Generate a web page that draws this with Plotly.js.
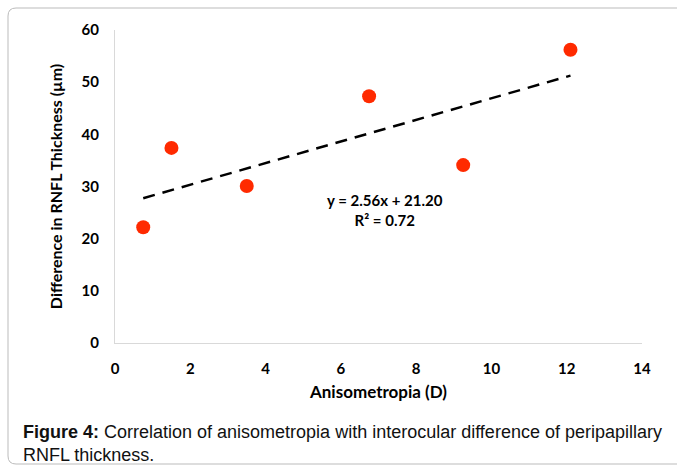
<!DOCTYPE html>
<html><head><meta charset="utf-8">
<script src="https://cdn.plot.ly/plotly-3.0.1.min.js"></script>
<style>html,body{margin:0;padding:0;background:#fff;}</style>
</head><body>
<div id="chart" style="width:677px;height:467px;"></div>
<script>
var anisometropia = [0.75, 1.5, 3.5, 6.75, 9.25, 12.1];
var rnflDifference = [22.2, 37.4, 30.1, 47.3, 34.1, 56.2];
var xTicks = [0, 2, 4, 6, 8, 10, 12, 14];
var yTicks = [0, 10, 20, 30, 40, 50, 60];
var equationText = 'y = 2.56x + 21.20';
var r2Text = 'R² = 0.72';

// least-squares trendline through the data
var n = anisometropia.length, mx = 0, my = 0;
for (var i = 0; i < n; i++) { mx += anisometropia[i]; my += rnflDifference[i]; }
mx /= n; my /= n;
var sxy = 0, sxx = 0;
for (var i = 0; i < n; i++) { sxy += (anisometropia[i]-mx)*(rnflDifference[i]-my); sxx += (anisometropia[i]-mx)*(anisometropia[i]-mx); }
var slope = sxy / sxx, icpt = my - slope * mx;
var xMin = Math.min.apply(null, anisometropia), xMax = Math.max.apply(null, anisometropia);
var trendX = [xMin, xMax];
var trendY = [slope*xMin + icpt, slope*xMax + icpt];

var font = 'Lato, "Open Sans", sans-serif';
var traces = [
  {x: trendX, y: trendY, mode: 'lines', type: 'scatter',
   line: {color: '#000', width: 2.5, dash: '12px,8px'}, hoverinfo: 'skip'},
  {x: anisometropia, y: rnflDifference, mode: 'markers', type: 'scatter',
   marker: {color: '#ff2a00', size: 14}}
];
var layout = {
  width: 677, height: 467,
  margin: {l: 115, r: 35, t: 30, b: 124},
  showlegend: false,
  paper_bgcolor: '#fff', plot_bgcolor: '#fff',
  xaxis: {range: [0, 14], tickvals: xTicks, ticktext: xTicks.map(String),
    showgrid: false, zeroline: false, showline: true, linecolor: '#d9d9d9', linewidth: 1,
    ticks: '', ticklabelstandoff: 12,
    tickfont: {family: font, size: 15, color: '#000', weight: 'bold'},
    title: {text: 'Anisometropia (D)', standoff: 10, font: {family: font, size: 17, color: '#000', weight: 'bold'}}},
  yaxis: {range: [0, 60], tickvals: yTicks, ticktext: yTicks.map(String),
    showgrid: false, zeroline: false, showline: true, linecolor: '#d9d9d9', linewidth: 1,
    ticks: '', ticklabelstandoff: 12,
    tickfont: {family: font, size: 15, color: '#000', weight: 'bold'},
    title: {text: 'Difference in RNFL Thickness (µm)', standoff: 14, font: {family: font, size: 16, color: '#000', weight: 'bold'}}},
  annotations: [
    {xref: 'x', yref: 'y', x: 7.17, y: 25.5, text: '<b>' + equationText + '</b><br><b>' + r2Text + '</b>',
     showarrow: false, font: {family: font, size: 15, color: '#000'}, align: 'center'},
    {xref: 'paper', yref: 'paper', x: -0.178, y: -0.245, xanchor: 'left', yanchor: 'top',
     text: '<b>Figure 4:</b> Correlation of anisometropia with interocular difference of peripapillary<br>RNFL thickness.',
     showarrow: false, align: 'left', font: {family: '"Liberation Sans", Arial, sans-serif', size: 18, color: '#111'}}
  ],
  shapes: [
    {type: 'path', xref: 'paper', yref: 'paper', layer: 'below',
     path: '', line: {color: '#bbb', width: 1}}
  ]
};
// rounded frame in pixel terms converted to paper coords
(function(){
  var pw = 677 - 115 - 35, ph = 467 - 30 - 124;
  function px(x){ return (x - 115) / pw; }
  function py(y){ return (467 - 124 - y) / ph; }
  var L = 8, T = 8, R = 690, B = 464, r = 8;
  layout.shapes[0].path = 'M' + px(L) + ',' + py(T + r) +
    ' Q' + px(L) + ',' + py(T) + ' ' + px(L + r) + ',' + py(T) +
    ' L' + px(R) + ',' + py(T) +
    ' L' + px(R) + ',' + py(B) +
    ' L' + px(L + r) + ',' + py(B) +
    ' Q' + px(L) + ',' + py(B) + ' ' + px(L) + ',' + py(B - r) + ' Z';
})();
Plotly.newPlot('chart', traces, layout, {displayModeBar: false, staticPlot: true});
</script>
</body></html>
